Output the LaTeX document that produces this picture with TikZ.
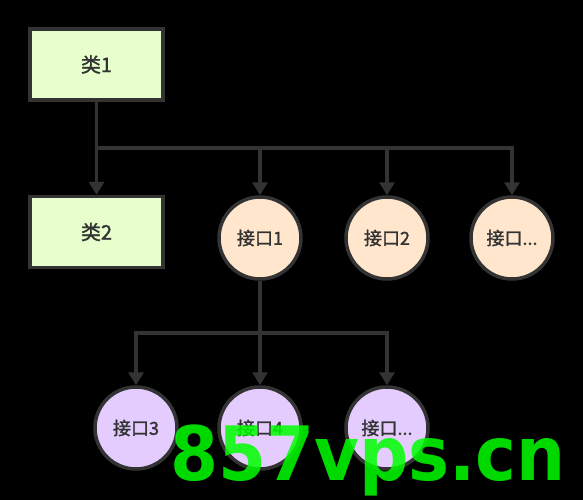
\documentclass[tikz,border=0pt]{standalone}
\usepackage{fontspec}
\usepackage{tikz}
\usetikzlibrary{positioning}
\usetikzlibrary{arrows.meta}
\newfontfamily\cjk[FakeBold=1.5]{Noto Sans CJK SC}
\newfontfamily\wmfont{DejaVu Sans}
\definecolor{lineC}{HTML}{333333}
\definecolor{clsC}{HTML}{E6FFCC}
\definecolor{intC}{HTML}{FFE6CC}
\definecolor{subC}{HTML}{E5CCFF}
\definecolor{markC}{HTML}{00FF00}
\tikzstyle{cls}=[draw=lineC, line width=3.5pt, fill=clsC, shape=rectangle, minimum width=133pt, minimum height=71pt, text=lineC, font=\cjk\fontsize{20}{22}\selectfont]
\tikzstyle{intf}=[draw=lineC, line width=3.5pt, fill=intC, shape=circle, minimum size=82pt, inner sep=0pt, text=lineC, font=\cjk\fontsize{18}{20}\selectfont]
\tikzstyle{subf}=[draw=lineC, line width=3.5pt, fill=subC, shape=circle, minimum size=82pt, inner sep=0pt, text=lineC, font=\cjk\fontsize{18}{20}\selectfont]
\tikzstyle{mline}=[line width=3.5pt, draw=lineC]
\tikzstyle{marrow}=[line width=3.5pt, draw=lineC, -{Triangle[width=15pt,length=13pt]}]
\def\cls{\node[style=cls]}
\def\intf{\node[style=intf]}
\def\subf{\node[style=subf]}
\def\mline{\draw[style=mline]}
\def\marrow{\draw[style=marrow]}

\begin{document}
\begin{tikzpicture}[x=1pt, y=-1pt]
      \fill[black] (0,0) rectangle (583,500);
      % classes
      \cls (cls1) at (96.5,64.5) {类1};
      \cls (cls2) at (96.5,232)  {类2};
      % interfaces
      \intf (int1) at (260,238) {接口1};
      \intf (int2) at (387,238) {接口2};
      \intf (intn) at (512,238) {接口...};
      % sub interfaces
      \subf (sub3) at (136,428) {接口3};
      \subf (sub4) at (260,428) {接口4};
      \subf (subn) at (387,428) {接口...};

      \coordinate (fork1) at (96.5,148);
      \coordinate (fork2) at (260,333);

      \mline  (cls1.south) -- (fork1);
      \marrow (fork1) -- (cls2.north);
      \marrow (fork1) -| (int1.north);
      \marrow (fork1) -| (int2.north);
      \marrow (fork1) -| (intn.north);

      \mline  (int1.south) -- (fork2);
      \marrow (fork2) -| (sub3.north);
      \marrow (fork2) -- (sub4.north);
      \marrow (fork2) -| (subn.north);
      % watermark
      \node[anchor=base west, inner sep=0pt, text=markC, text opacity=0.85] (mark) at (170,480)
            {\scalebox{0.92}[1]{\wmfont\bfseries\fontsize{75}{75}\selectfont 857vps.cn}};
\end{tikzpicture}
\end{document}
